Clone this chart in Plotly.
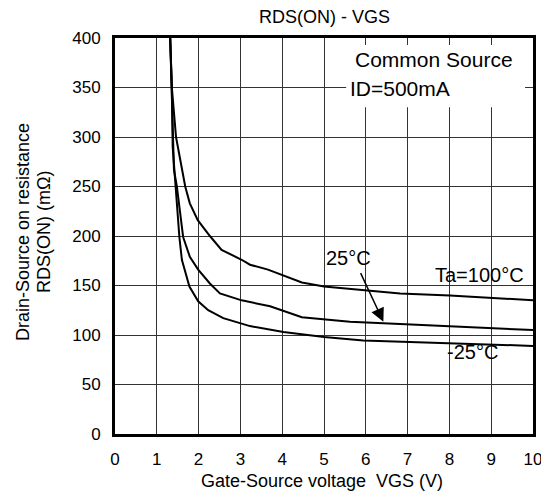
import plotly.graph_objects as go

# VGS (V) and RDS(ON) (mOhm)
vgs_100 = [1.32, 1.36, 1.46, 1.63, 1.68, 1.79, 1.98, 2.27, 2.55, 3.03, 3.23, 3.66, 4.47, 5.0, 6.82, 8.01, 10.0]
rds_100 = [400, 350, 300, 258, 250, 233, 216, 200, 186, 176, 171, 166, 153, 149, 142, 140, 135]

vgs_25 = [1.32, 1.36, 1.39, 1.41, 1.48, 1.63, 1.79, 1.99, 2.27, 2.51, 3.03, 3.71, 4.47, 5.62, 6.82, 8.01, 10.0]
rds_25 = [400, 350, 300, 267, 250, 199, 179, 166, 152, 142, 135, 129, 118, 113.5, 111, 109, 105]

vgs_m25 = [1.32, 1.36, 1.38, 1.48, 1.54, 1.60, 1.67, 1.78, 1.99, 2.23, 2.59, 3.23, 4.03, 5.0, 5.94, 6.82, 8.01, 10.0]
rds_m25 = [400, 350, 290, 233, 199, 176, 166, 149, 134, 125, 117, 109, 103, 98, 94.5, 93.3, 92, 89]

x_ticks = list(range(0, 11))
y_ticks = list(range(0, 401, 50))

FONT = "Arial, Liberation Sans, sans-serif"

fig = go.Figure()
for xs, ys in [(vgs_100, rds_100), (vgs_25, rds_25), (vgs_m25, rds_m25)]:
    fig.add_trace(go.Scatter(x=xs, y=ys, mode="lines",
                             line=dict(color="black", width=2), showlegend=False,
                             hoverinfo="skip"))

# page has an 8px body margin, so the figure is 8px smaller and margins shifted
fig.update_layout(
    width=541, height=483,
    margin=dict(l=107, r=16, t=30, b=57, autoexpand=False),
    paper_bgcolor="white", plot_bgcolor="white",
    font=dict(family=FONT, color="black", size=17),
    showlegend=False,
)
fig.update_xaxes(range=[0, 10], tickvals=x_ticks, ticktext=[str(v) for v in x_ticks],
                 showgrid=True, gridcolor="#333", gridwidth=1, zeroline=False,
                 showline=True, linecolor="black", linewidth=3, mirror=True,
                 ticks="", ticklabelstandoff=8, tickfont=dict(size=17), automargin=False)
fig.update_yaxes(range=[0, 400], tickvals=y_ticks, ticktext=[str(v) for v in y_ticks],
                 showgrid=True, gridcolor="#333", gridwidth=1, zeroline=False,
                 showline=True, linecolor="black", linewidth=3, mirror=True,
                 ticks="", ticklabelstandoff=8, tickfont=dict(size=17), automargin=False)

# white box behind the condition text
fig.add_shape(type="rect", xref="x", yref="y", x0=5.53, x1=9.81, y0=330, y1=393,
              fillcolor="white", line=dict(width=0), layer="above")

ann = []
ann.append(dict(text="RDS(ON) - VGS", xref="paper", yref="paper", x=0.50, y=1.052,
                showarrow=False, font=dict(size=18), xanchor="center", yanchor="middle"))
ann.append(dict(text="Gate-Source voltage\u00a0 VGS (V)", xref="paper", yref="paper",
                x=0.495, y=-0.119, showarrow=False, font=dict(size=18),
                xanchor="center", yanchor="middle"))
ann.append(dict(text="Drain-Source on resistance", xref="paper", yref="paper",
                x=-0.220, y=0.51, textangle=-90, showarrow=False, font=dict(size=18),
                xanchor="center", yanchor="middle"))
ann.append(dict(text="RDS(ON) (mΩ)", xref="paper", yref="paper",
                x=-0.170, y=0.51, textangle=-90, showarrow=False, font=dict(size=18),
                xanchor="center", yanchor="middle"))
ann.append(dict(text="Common Source", xref="x", yref="y", x=5.70, y=378,
                showarrow=False, font=dict(size=21), xanchor="left", yanchor="middle"))
ann.append(dict(text="ID=500mA", xref="x", yref="y", x=5.58, y=348.5,
                showarrow=False, font=dict(size=21), xanchor="left", yanchor="middle"))
ann.append(dict(text="25°C", xref="x", yref="y", x=5.58, y=178,
                showarrow=False, font=dict(size=20), xanchor="center", yanchor="middle"))
ann.append(dict(text="Ta=100°C", xref="x", yref="y", x=8.72, y=160.6,
                showarrow=False, font=dict(size=20), xanchor="center", yanchor="middle"))
ann.append(dict(text="-25°C", xref="x", yref="y", x=8.55, y=83,
                showarrow=False, font=dict(size=20), xanchor="center", yanchor="middle"))
ann.append(dict(text="", xref="x", yref="y", x=6.42, y=113.4, axref="x", ayref="y",
                ax=5.86, ay=164, showarrow=True, arrowhead=2, arrowsize=1.8,
                arrowwidth=1.5, arrowcolor="black"))
fig.update_layout(annotations=ann)

fig.write_html("out.html")
